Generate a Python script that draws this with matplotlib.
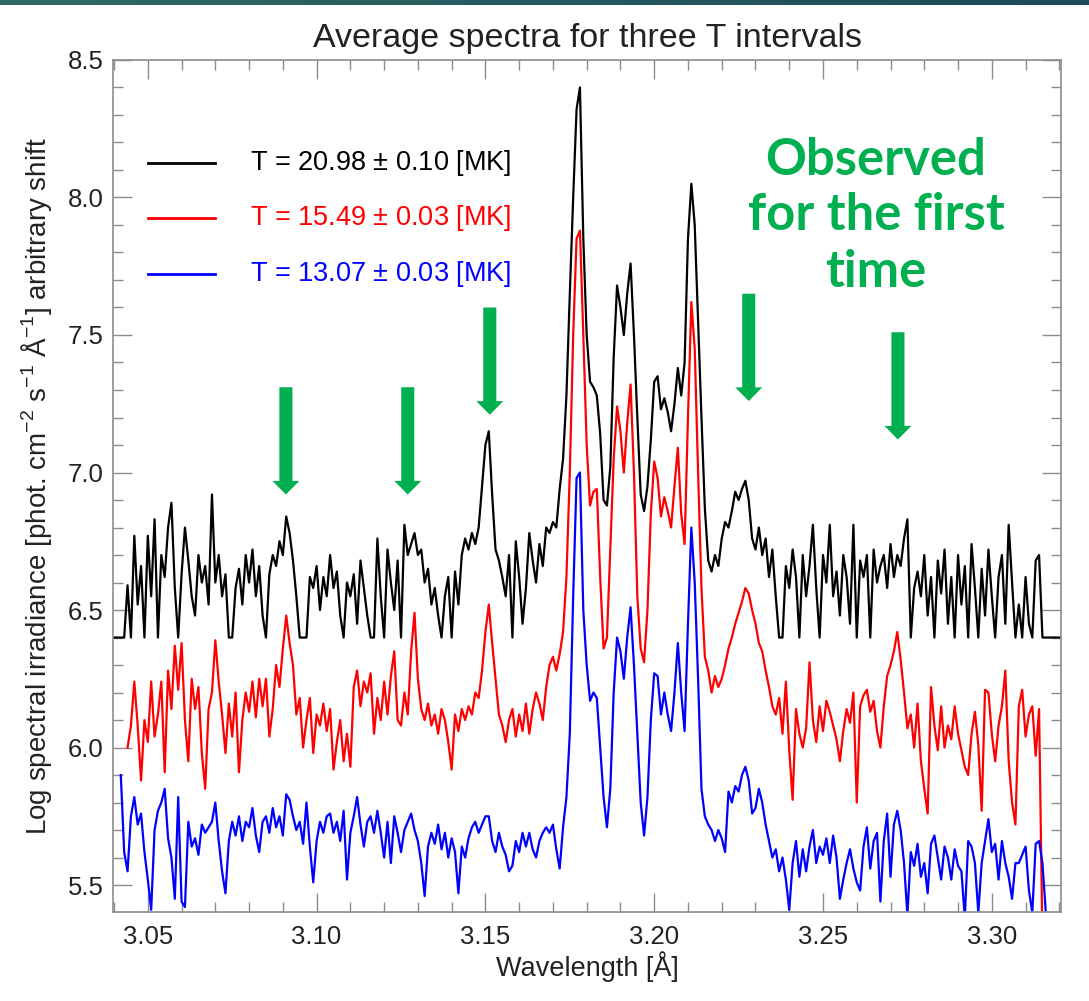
import matplotlib
matplotlib.use("Agg")
import matplotlib.pyplot as plt
from matplotlib.ticker import MultipleLocator
from matplotlib.colors import LinearSegmentedColormap
import numpy as np

plt.rcParams['font.family'] = ['Liberation Sans', 'DejaVu Sans']
plt.rcParams['mathtext.fontset'] = 'custom'
plt.rcParams['mathtext.rm'] = 'Liberation Sans'

# wavelength grid: start of each series, step 0.001 A
step = 0.001
black_start = 3.040
red_start = 3.044
blue_start = 3.042

# T = 20.98 MK (floor at 6.40)
black = [
    6.40, 6.40, 6.40, 6.40, 6.59, 6.40, 6.77, 6.52, 6.66, 6.40,  # 3.040
    6.77, 6.55, 6.83, 6.40, 6.70, 6.62, 6.80, 6.89, 6.58, 6.40,  # 3.050
    6.63, 6.80, 6.68, 6.55, 6.48, 6.70, 6.60, 6.66, 6.52, 6.92,  # 3.060
    6.60, 6.70, 6.55, 6.63, 6.40, 6.40, 6.58, 6.65, 6.52, 6.70,  # 3.070
    6.60, 6.72, 6.55, 6.66, 6.48, 6.40, 6.63, 6.70, 6.66, 6.75,  # 3.080
    6.70, 6.84, 6.78, 6.68, 6.55, 6.40, 6.40, 6.40, 6.62, 6.58,  # 3.090
    6.66, 6.50, 6.62, 6.55, 6.70, 6.58, 6.64, 6.48, 6.40, 6.60,  # 3.100
    6.55, 6.63, 6.45, 6.68, 6.58, 6.48, 6.40, 6.40, 6.76, 6.55,  # 3.110
    6.40, 6.72, 6.60, 6.50, 6.68, 6.40, 6.81, 6.70, 6.74, 6.78,  # 3.120
    6.70, 6.72, 6.60, 6.65, 6.52, 6.58, 6.48, 6.40, 6.55, 6.62,  # 3.130
    6.40, 6.64, 6.52, 6.70, 6.76, 6.72, 6.78, 6.74, 6.80, 6.95,  # 3.140
    7.10, 7.15, 6.92, 6.72, 6.68, 6.62, 6.55, 6.70, 6.40, 6.75,  # 3.150
    6.62, 6.45, 6.58, 6.78, 6.68, 6.60, 6.74, 6.66, 6.80, 6.78,  # 3.160
    6.82, 6.80, 6.94, 7.05, 7.28, 7.65, 8.00, 8.32, 8.40, 7.85,  # 3.170
    7.50, 7.33, 7.31, 7.28, 7.14, 6.90, 6.88, 7.02, 7.42, 7.68,  # 3.180
    7.60, 7.50, 7.65, 7.76, 7.50, 7.20, 6.92, 6.86, 6.95, 7.12,  # 3.190
    7.33, 7.35, 7.23, 7.27, 7.22, 7.15, 7.25, 7.38, 7.28, 7.40,  # 3.200
    7.85, 8.05, 7.90, 7.55, 7.20, 6.87, 6.68, 6.64, 6.70, 6.66,  # 3.210
    6.76, 6.82, 6.80, 6.86, 6.93, 6.90, 6.94, 6.97, 6.90, 6.76,  # 3.220
    6.72, 6.80, 6.70, 6.76, 6.62, 6.72, 6.55, 6.40, 6.40, 6.66,  # 3.230
    6.58, 6.72, 6.62, 6.40, 6.70, 6.55, 6.66, 6.81, 6.58, 6.40,  # 3.240
    6.70, 6.60, 6.81, 6.55, 6.64, 6.48, 6.70, 6.62, 6.45, 6.81,  # 3.250
    6.40, 6.68, 6.62, 6.70, 6.40, 6.72, 6.60, 6.66, 6.70, 6.58,  # 3.260
    6.74, 6.62, 6.70, 6.66, 6.76, 6.83, 6.40, 6.58, 6.64, 6.55,  # 3.270
    6.70, 6.48, 6.62, 6.40, 6.68, 6.56, 6.72, 6.45, 6.62, 6.40,  # 3.280
    6.70, 6.52, 6.66, 6.40, 6.74, 6.58, 6.40, 6.65, 6.48, 6.72,  # 3.290
    6.55, 6.40, 6.62, 6.70, 6.45, 6.81, 6.60, 6.40, 6.52, 6.40,  # 3.300
    6.62, 6.45, 6.40, 6.68, 6.70, 6.40, 6.40, 6.40, 6.40, 6.40,  # 3.310
    6.40,                                                        # 3.320
]

# T = 15.49 MK
red = [
    6.00, 6.08, 6.24, 6.08, 5.88, 6.10,                          # 3.044
    6.02, 6.24, 6.04, 6.12, 6.24, 5.91, 6.28, 6.14, 6.37, 6.21,  # 3.050
    6.38, 6.10, 5.95, 6.25, 6.14, 6.22, 5.98, 5.85, 6.14, 6.20,  # 3.060
    6.39, 6.24, 6.12, 5.98, 6.16, 6.04, 6.20, 5.91, 6.10, 6.20,  # 3.070
    6.13, 6.24, 6.11, 6.25, 6.15, 6.25, 6.04, 6.14, 6.30, 6.22,  # 3.080
    6.36, 6.48, 6.38, 6.30, 6.12, 6.18, 6.00, 6.10, 6.18, 5.98,  # 3.090
    6.12, 6.08, 6.16, 6.06, 6.14, 5.92, 6.02, 6.10, 5.95, 6.05,  # 3.100
    5.93, 6.22, 6.28, 6.15, 6.24, 6.20, 6.27, 6.05, 6.18, 6.10,  # 3.110
    6.24, 6.12, 6.26, 6.35, 6.10, 6.08, 6.20, 6.12, 6.35, 6.49,  # 3.120
    6.25, 6.14, 6.10, 6.16, 6.08, 6.12, 6.05, 6.14, 6.10, 6.02,  # 3.130
    5.92, 6.12, 6.06, 6.14, 6.10, 6.15, 6.12, 6.20, 6.18, 6.28,  # 3.140
    6.42, 6.52, 6.38, 6.25, 6.12, 6.08, 6.02, 6.10, 6.14, 6.04,  # 3.150
    6.12, 6.06, 6.16, 6.05, 6.14, 6.20, 6.16, 6.10, 6.22, 6.30,  # 3.160
    6.33, 6.28, 6.34, 6.42, 6.62, 7.00, 7.50, 7.85, 7.88, 7.50,  # 3.170
    7.10, 6.88, 6.93, 6.94, 6.62, 6.36, 6.40, 6.72, 7.05, 7.24,  # 3.180
    7.15, 7.00, 7.18, 7.32, 7.00, 6.55, 6.36, 6.31, 6.50, 6.85,  # 3.190
    7.04, 6.98, 6.84, 6.91, 6.86, 6.80, 6.95, 7.09, 6.85, 6.74,  # 3.200
    7.20, 7.62, 7.45, 7.00, 6.58, 6.33, 6.28, 6.20, 6.26, 6.22,  # 3.210
    6.25, 6.30, 6.36, 6.40, 6.45, 6.49, 6.53, 6.58, 6.56, 6.50,  # 3.220
    6.45, 6.38, 6.35, 6.28, 6.22, 6.15, 6.12, 6.18, 6.05, 6.24,  # 3.230
    5.99, 5.81, 6.14, 6.05, 6.00, 6.07, 6.31, 6.10, 6.02, 6.15,  # 3.240
    6.06, 6.17, 6.13, 6.08, 6.03, 5.95, 6.06, 6.14, 6.09, 6.20,  # 3.250
    5.80, 6.15, 6.19, 6.21, 6.13, 6.17, 6.06, 6.00, 6.15, 6.26,  # 3.260
    6.30, 6.35, 6.42, 6.32, 6.20, 6.07, 6.12, 6.00, 6.16, 5.95,  # 3.270
    5.85, 5.76, 6.22, 6.08, 5.99, 6.15, 6.00, 6.08, 6.03, 6.15,  # 3.280
    6.05, 5.99, 5.93, 5.90, 6.05, 6.13, 6.01, 5.77, 6.21, 6.20,  # 3.290
    6.05, 5.95, 6.08, 6.15, 6.28, 5.95, 5.80, 5.72, 6.15, 6.21,  # 3.300
    6.04, 6.12, 6.15, 5.97, 6.14, 5.30,                          # 3.310
]

# T = 13.07 MK
blue = [
    5.90, 5.62, 5.55, 5.75, 5.82, 5.72, 5.76, 5.62,              # 3.042
    5.52, 5.41, 5.70, 5.77, 5.80, 5.85, 5.67, 5.60, 5.45, 5.82,  # 3.050
    5.44, 5.42, 5.73, 5.64, 5.67, 5.61, 5.72, 5.69, 5.71, 5.73,  # 3.060
    5.80, 5.66, 5.55, 5.47, 5.66, 5.73, 5.68, 5.75, 5.66, 5.73,  # 3.070
    5.71, 5.78, 5.68, 5.62, 5.73, 5.75, 5.69, 5.78, 5.71, 5.75,  # 3.080
    5.68, 5.83, 5.81, 5.75, 5.70, 5.73, 5.65, 5.80, 5.64, 5.51,  # 3.090
    5.66, 5.73, 5.69, 5.75, 5.76, 5.69, 5.73, 5.66, 5.77, 5.52,  # 3.100
    5.69, 5.75, 5.82, 5.72, 5.64, 5.73, 5.75, 5.69, 5.77, 5.69,  # 3.110
    5.60, 5.73, 5.58, 5.75, 5.69, 5.62, 5.70, 5.73, 5.76, 5.70,  # 3.120
    5.66, 5.58, 5.46, 5.64, 5.69, 5.65, 5.72, 5.63, 5.69, 5.60,  # 3.130
    5.67, 5.62, 5.47, 5.64, 5.60, 5.67, 5.71, 5.73, 5.69, 5.72,  # 3.140
    5.75, 5.75, 5.66, 5.62, 5.69, 5.64, 5.61, 5.55, 5.57, 5.66,  # 3.150
    5.62, 5.69, 5.64, 5.69, 5.63, 5.60, 5.66, 5.69, 5.71, 5.69,  # 3.160
    5.72, 5.63, 5.56, 5.71, 5.82, 6.05, 6.55, 6.98, 7.00, 6.50,  # 3.170
    6.30, 6.17, 6.20, 6.18, 6.00, 5.82, 5.71, 5.85, 6.20, 6.40,  # 3.180
    6.35, 6.25, 6.40, 6.51, 6.30, 6.05, 5.80, 5.68, 5.82, 6.10,  # 3.190
    6.27, 6.26, 6.12, 6.20, 6.12, 6.06, 6.20, 6.38, 6.20, 6.06,  # 3.200
    6.45, 6.80, 6.60, 6.25, 5.85, 5.75, 5.72, 5.70, 5.66, 5.70,  # 3.210
    5.67, 5.62, 5.84, 5.80, 5.86, 5.84, 5.90, 5.93, 5.88, 5.76,  # 3.220
    5.78, 5.85, 5.80, 5.72, 5.66, 5.60, 5.63, 5.55, 5.60, 5.52,  # 3.230
    5.41, 5.58, 5.66, 5.53, 5.63, 5.55, 5.64, 5.70, 5.58, 5.64,  # 3.240
    5.61, 5.67, 5.58, 5.68, 5.60, 5.45, 5.52, 5.58, 5.63, 5.56,  # 3.250
    5.51, 5.48, 5.64, 5.71, 5.56, 5.66, 5.69, 5.44, 5.66, 5.76,  # 3.260
    5.53, 5.72, 5.77, 5.70, 5.58, 5.39, 5.62, 5.57, 5.65, 5.53,  # 3.270
    5.58, 5.47, 5.65, 5.68, 5.60, 5.52, 5.64, 5.60, 5.52, 5.63,  # 3.280
    5.57, 5.55, 5.38, 5.66, 5.64, 5.58, 5.40, 5.58, 5.66, 5.74,  # 3.290
    5.62, 5.65, 5.52, 5.66, 5.58, 5.53, 5.45, 5.58, 5.58, 5.61,  # 3.300
    5.64, 5.48, 5.40, 5.65, 5.66, 5.58, 5.40,                    # 3.310
]

labels = ['T = 20.98 $\\pm$ 0.10 [MK]', 'T = 15.49 $\\pm$ 0.03 [MK]', 'T = 13.07 $\\pm$ 0.03 [MK]']
colors = ['black', 'red', 'blue']

# lines observed for the first time (wavelength, arrow top, arrow tip)
arrow_wl = [3.0909, 3.1270, 3.1513, 3.2280, 3.2722]
arrow_top = [7.31, 7.31, 7.60, 7.65, 7.51]
arrow_tip = [6.92, 6.92, 7.21, 7.26, 7.12]
green = '#00B050'

wl_black = black_start + step * np.arange(len(black))
wl_red = red_start + step * np.arange(len(red))
wl_blue = blue_start + step * np.arange(len(blue))

fig = plt.figure(figsize=(10.89, 10.01), dpi=100)
ax = fig.add_axes([0.1038, 0.0889, 0.8705, 0.8512])

ax.plot(wl_black, black, color=colors[0], lw=1.6)
ax.plot(wl_red, red, color=colors[1], lw=1.6)
ax.plot(wl_blue, blue, color=colors[2], lw=1.6)

ax.set_xlim(3.0397, 3.3205)
ax.set_ylim(5.402, 8.5)
ax.xaxis.set_major_locator(MultipleLocator(0.05))
ax.xaxis.set_minor_locator(MultipleLocator(0.01))
ax.yaxis.set_major_locator(MultipleLocator(0.5))
ax.yaxis.set_minor_locator(MultipleLocator(0.1))
ax.xaxis.set_major_formatter(matplotlib.ticker.FormatStrFormatter('%.2f'))
ax.yaxis.set_major_formatter(matplotlib.ticker.FormatStrFormatter('%.1f'))

spine_c = '#8c8c8c'
for s in ax.spines.values():
    s.set_color(spine_c)
    s.set_linewidth(1.2)
ax.tick_params(which='both', direction='in', top=True, right=True, color=spine_c, width=1.0,
               labelsize=18.5, labelcolor='#222222')
ax.tick_params(which='major', length=14)
ax.tick_params(which='minor', length=7)
ax.tick_params(axis='x', which='major', pad=9)
ax.tick_params(axis='y', which='major', pad=7)

ax.set_title('Average spectra for three T intervals', fontsize=24.5, pad=9, color='#222222')
ax.set_xlabel('Wavelength [Å]', fontsize=19.5, labelpad=2, color='#222222')
ax.set_ylabel('Log spectral irradiance [phot. cm$^{-2}$ s$^{-1}$ Å$^{-1}$] arbitrary shift',
              fontsize=20, labelpad=10, color='#222222')

# legend drawn by hand, IDL style
leg_y = [0.879, 0.8146, 0.7488]
for lab, c, yy in zip(labels, colors, leg_y):
    ax.plot([0.0369, 0.1076], [yy, yy], color=c, lw=2, transform=ax.transAxes)
    ax.text(0.1445, yy, lab, color=c, fontsize=19.5, va='center', ha='left', transform=ax.transAxes)

for xw, yt, yp in zip(arrow_wl, arrow_top, arrow_tip):
    ax.annotate('', xy=(xw, yp), xytext=(xw, yt),
                arrowprops=dict(facecolor=green, edgecolor='none', width=9.4,
                                headwidth=19.4, headlength=9.8, shrink=0))

for txt, yb in zip(['Observed', 'for the first', 'time'], [0.8252, 0.7702, 0.7133]):
    fig.text(0.8044, yb, txt, color=green, fontsize=36.5, fontweight='bold', family='Lato',
             ha='center', va='baseline')

# dark banner strip on top
cmap = LinearSegmentedColormap.from_list('band', ['#2f6b63', '#1d4a58'])
band = fig.add_axes([0, 1 - 5 / 1001, 1, 5 / 1001])
band.imshow(np.linspace(0, 1, 200)[None, :], aspect='auto', cmap=cmap)
band.axis('off')

fig.savefig('out.png', dpi=100)
